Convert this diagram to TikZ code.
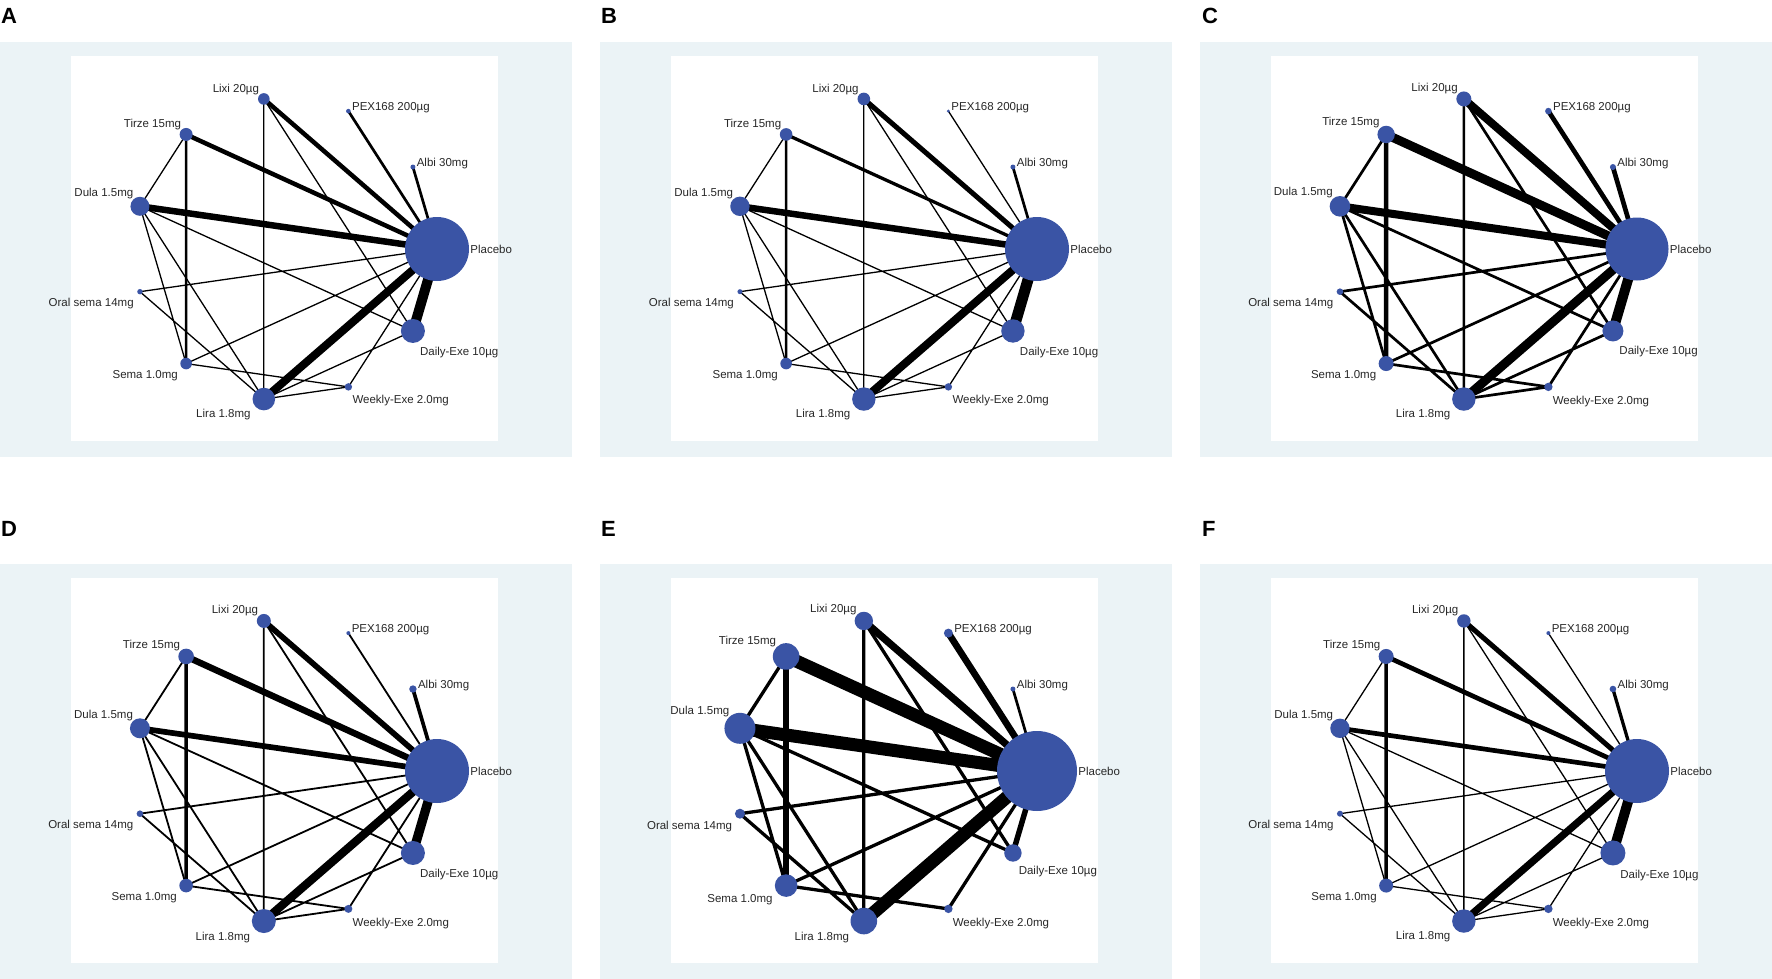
\documentclass[tikz,border=0pt]{standalone}
\usepackage{fontspec}
\setmainfont{Liberation Sans}

\definecolor{nodeblue}{RGB}{58,84,165}
\definecolor{panelbg}{RGB}{235,243,246}
\definecolor{labelgray}{RGB}{40,40,40}

\pgfdeclarelayer{panel}
\pgfdeclarelayer{links}
\pgfsetlayers{panel,links,main}

\tikzset{
  drug/.style={circle, fill=nodeblue, inner sep=0pt, minimum size=#1pt},
  lbl/.style={font=\fontsize{11.5}{13}\selectfont, text=labelgray, inner sep=0pt},
  link/.style={line width=#1pt, black},
  tag/.style={font=\bfseries\fontsize{22}{24}\selectfont, inner sep=0pt, anchor=base west},
  lbl placebo/.style={label={[lbl,anchor=west,xshift=1pt]0:Placebo}},
  lbl albi/.style={label={[lbl,anchor=base west,xshift=1pt,yshift=1pt]0:Albi 30mg}},
  lbl pex/.style={label={[lbl,anchor=base west,xshift=1pt,yshift=1pt]0:PEX168 200µg}},
  lbl lixi/.style={label={[lbl,anchor=south east]140:Lixi 20µg}},
  lbl tirze/.style={label={[lbl,anchor=south east]137:Tirze 15mg}},
  lbl dula/.style={label={[lbl,anchor=south east]132:Dula 1.5mg}},
  lbl oral/.style={label={[lbl,anchor=north east,xshift=-4pt,yshift=-4pt]225:Oral sema 14mg}},
  lbl sema/.style={label={[lbl,anchor=north east,xshift=-2.5pt,yshift=-4.5pt]200:Sema 1.0mg}},
  lbl lira/.style={label={[lbl,anchor=north east,xshift=-4pt,yshift=-3pt]218:Lira 1.8mg}},
  lbl weekly/.style={label={[lbl,anchor=north west,xshift=2pt,yshift=-5pt]300:Weekly-Exe 2.0mg}},
  lbl daily/.style={label={[lbl,anchor=north west,xshift=2pt,yshift=-5pt]294:Daily-Exe 10µg}}
}

\begin{document}
\begin{tikzpicture}[x=1pt,y=1pt]

\useasboundingbox (0,0) rectangle (1772,-979);

\node[tag] (tagA) at (1,-24) {A};
\node[tag] (tagB) at (601,-24) {B};
\node[tag] (tagC) at (1202,-24) {C};
\node[tag] (tagD) at (1,-536) {D};
\node[tag] (tagE) at (601,-536) {E};
\node[tag] (tagF) at (1202,-536) {F};

\begin{scope}[shift={(285.4,-249)}]
\begin{pgfonlayer}{panel}
\fill[panelbg] (-285.4,-208) rectangle (286.6,207);
\fill[white] (-214,-192) rectangle (213,193);
\end{pgfonlayer}
\node[drug=64, lbl placebo] (aPla) at (0:151.6) {};
\node[drug=5, lbl albi] (aAlbi) at (32.73:151.6) {};
\node[drug=4.6, lbl pex] (aPex) at (65.45:151.6) {};
\node[drug=11.6, lbl lixi] (aLixi) at (98.18:151.6) {};
\node[drug=13, lbl tirze] (aTirze) at (130.91:151.6) {};
\node[drug=19, lbl dula] (aDula) at (163.64:151.6) {};
\node[drug=5.4, lbl oral] (aOral) at (196.36:151.6) {};
\node[drug=11.6, lbl sema] (aSema) at (229.09:151.6) {};
\node[drug=22.6, lbl lira] (aLira) at (261.82:151.6) {};
\node[drug=7.4, lbl weekly] (aWeekly) at (294.55:151.6) {};
\node[drug=24, lbl daily] (aDaily) at (327.27:151.6) {};
\begin{pgfonlayer}{links}
\draw[link=1.3] (aPla.center) -- (aOral.center) (aPla.center) -- (aSema.center) (aPla.center) -- (aWeekly.center)
  (aLixi.center) -- (aLira.center) (aLixi.center) -- (aDaily.center) (aTirze.center) -- (aDula.center)
  (aDula.center) -- (aSema.center) (aDula.center) -- (aLira.center) (aDula.center) -- (aDaily.center)
  (aOral.center) -- (aLira.center) (aSema.center) -- (aWeekly.center) (aLira.center) -- (aWeekly.center)
  (aLira.center) -- (aDaily.center);
\draw[link=2.7] (aPla.center) -- (aPex.center) (aPla.center) -- (aAlbi.center) (aTirze.center) -- (aSema.center);
\draw[link=4.5] (aPla.center) -- (aLixi.center) (aPla.center) -- (aTirze.center);
\draw[link=6.5] (aPla.center) -- (aDula.center);
\draw[link=8] (aPla.center) -- (aLira.center);
\draw[link=10] (aPla.center) -- (aDaily.center);
\end{pgfonlayer}
\end{scope}

\begin{scope}[shift={(885.4,-249)}]
\begin{pgfonlayer}{panel}
\fill[panelbg] (-285.4,-208) rectangle (286.6,207);
\fill[white] (-214,-192) rectangle (213,193);
\end{pgfonlayer}
\node[drug=64, lbl placebo] (bPla) at (0:151.6) {};
\node[drug=5, lbl albi] (bAlbi) at (32.73:151.6) {};
\node[drug=3.4, lbl pex] (bPex) at (65.45:151.6) {};
\node[drug=12.6, lbl lixi] (bLixi) at (98.18:151.6) {};
\node[drug=12.6, lbl tirze] (bTirze) at (130.91:151.6) {};
\node[drug=19.4, lbl dula] (bDula) at (163.64:151.6) {};
\node[drug=5, lbl oral] (bOral) at (196.36:151.6) {};
\node[drug=11.6, lbl sema] (bSema) at (229.09:151.6) {};
\node[drug=23.4, lbl lira] (bLira) at (261.82:151.6) {};
\node[drug=7.4, lbl weekly] (bWeekly) at (294.55:151.6) {};
\node[drug=23.4, lbl daily] (bDaily) at (327.27:151.6) {};
\begin{pgfonlayer}{links}
\draw[link=1.3] (bPla.center) -- (bOral.center) (bPla.center) -- (bSema.center) (bPla.center) -- (bWeekly.center)
  (bLixi.center) -- (bLira.center) (bLixi.center) -- (bDaily.center) (bTirze.center) -- (bDula.center)
  (bDula.center) -- (bSema.center) (bDula.center) -- (bLira.center) (bDula.center) -- (bDaily.center)
  (bOral.center) -- (bLira.center) (bSema.center) -- (bWeekly.center) (bLira.center) -- (bWeekly.center)
  (bLira.center) -- (bDaily.center) (bPla.center) -- (bPex.center);
\draw[link=2.7] (bPla.center) -- (bAlbi.center) (bTirze.center) -- (bSema.center);
\draw[link=3.3] (bPla.center) -- (bTirze.center);
\draw[link=5] (bPla.center) -- (bLixi.center);
\draw[link=6.5] (bPla.center) -- (bDula.center);
\draw[link=8] (bPla.center) -- (bLira.center);
\draw[link=11] (bPla.center) -- (bDaily.center);
\end{pgfonlayer}
\end{scope}

\begin{scope}[shift={(1485.4,-249)}]
\begin{pgfonlayer}{panel}
\fill[panelbg] (-285.4,-208) rectangle (286.6,207);
\fill[white] (-214,-192) rectangle (213,193);
\end{pgfonlayer}
\node[drug=63, lbl placebo] (cPla) at (0:151.6) {};
\node[drug=6, lbl albi] (cAlbi) at (32.73:151.6) {};
\node[drug=6.6, lbl pex] (cPex) at (65.45:151.6) {};
\node[drug=15, lbl lixi] (cLixi) at (98.18:151.6) {};
\node[drug=17.4, lbl tirze] (cTirze) at (130.91:151.6) {};
\node[drug=20.6, lbl dula] (cDula) at (163.64:151.6) {};
\node[drug=6.6, lbl oral] (cOral) at (196.36:151.6) {};
\node[drug=15, lbl sema] (cSema) at (229.09:151.6) {};
\node[drug=23.4, lbl lira] (cLira) at (261.82:151.6) {};
\node[drug=8.4, lbl weekly] (cWeekly) at (294.55:151.6) {};
\node[drug=21, lbl daily] (cDaily) at (327.27:151.6) {};
\begin{pgfonlayer}{links}
\draw[link=2.7] (cPla.center) -- (cOral.center) (cPla.center) -- (cSema.center) (cPla.center) -- (cWeekly.center)
  (cLixi.center) -- (cLira.center) (cLixi.center) -- (cDaily.center) (cTirze.center) -- (cDula.center)
  (cDula.center) -- (cSema.center) (cDula.center) -- (cLira.center) (cDula.center) -- (cDaily.center)
  (cOral.center) -- (cLira.center) (cSema.center) -- (cWeekly.center) (cLira.center) -- (cWeekly.center)
  (cLira.center) -- (cDaily.center);
\draw[link=4.7] (cPla.center) -- (cAlbi.center) (cPla.center) -- (cPex.center) (cTirze.center) -- (cSema.center);
\draw[link=8] (cPla.center) -- (cLixi.center) (cPla.center) -- (cDula.center);
\draw[link=9] (cPla.center) -- (cTirze.center) (cPla.center) -- (cLira.center);
\draw[link=10] (cPla.center) -- (cDaily.center);
\end{pgfonlayer}
\end{scope}

\begin{scope}[shift={(285.4,-771)}]
\begin{pgfonlayer}{panel}
\fill[panelbg] (-285.4,-208) rectangle (286.6,207);
\fill[white] (-214,-192) rectangle (213,193);
\end{pgfonlayer}
\node[drug=64, lbl placebo] (dPla) at (0:151.6) {};
\node[drug=7.4, lbl albi] (dAlbi) at (32.73:151.6) {};
\node[drug=4, lbl pex] (dPex) at (65.45:151.6) {};
\node[drug=14, lbl lixi] (dLixi) at (98.18:151.6) {};
\node[drug=15.6, lbl tirze] (dTirze) at (130.91:151.6) {};
\node[drug=20, lbl dula] (dDula) at (163.64:151.6) {};
\node[drug=6.6, lbl oral] (dOral) at (196.36:151.6) {};
\node[drug=13.6, lbl sema] (dSema) at (229.09:151.6) {};
\node[drug=24, lbl lira] (dLira) at (261.82:151.6) {};
\node[drug=8, lbl weekly] (dWeekly) at (294.55:151.6) {};
\node[drug=24, lbl daily] (dDaily) at (327.27:151.6) {};
\begin{pgfonlayer}{links}
\draw[link=1.8] (dPla.center) -- (dOral.center) (dPla.center) -- (dSema.center) (dPla.center) -- (dWeekly.center)
  (dLixi.center) -- (dLira.center) (dLixi.center) -- (dDaily.center) (dTirze.center) -- (dDula.center)
  (dDula.center) -- (dSema.center) (dDula.center) -- (dLira.center) (dDula.center) -- (dDaily.center)
  (dOral.center) -- (dLira.center) (dSema.center) -- (dWeekly.center) (dLira.center) -- (dWeekly.center)
  (dLira.center) -- (dDaily.center) (dPla.center) -- (dPex.center);
\draw[link=3.7] (dPla.center) -- (dAlbi.center) (dTirze.center) -- (dSema.center);
\draw[link=5.7] (dPla.center) -- (dLixi.center) (dPla.center) -- (dDula.center);
\draw[link=6.5] (dPla.center) -- (dTirze.center);
\draw[link=8.3] (dPla.center) -- (dLira.center);
\draw[link=9.3] (dPla.center) -- (dDaily.center);
\end{pgfonlayer}
\end{scope}

\begin{scope}[shift={(885.4,-771)}]
\begin{pgfonlayer}{panel}
\fill[panelbg] (-285.4,-208) rectangle (286.6,207);
\fill[white] (-214,-192) rectangle (213,193);
\end{pgfonlayer}
\node[drug=80, lbl placebo] (ePla) at (0:151.6) {};
\node[drug=5, lbl albi] (eAlbi) at (32.73:151.6) {};
\node[drug=9, lbl pex] (ePex) at (65.45:151.6) {};
\node[drug=18.4, lbl lixi] (eLixi) at (98.18:151.6) {};
\node[drug=26.6, lbl tirze] (eTirze) at (130.91:151.6) {};
\node[drug=31, lbl dula] (eDula) at (163.64:151.6) {};
\node[drug=10, lbl oral] (eOral) at (196.36:151.6) {};
\node[drug=22.6, lbl sema] (eSema) at (229.09:151.6) {};
\node[drug=26.6, lbl lira] (eLira) at (261.82:151.6) {};
\node[drug=8.4, lbl weekly] (eWeekly) at (294.55:151.6) {};
\node[drug=17.4, lbl daily] (eDaily) at (327.27:151.6) {};
\begin{pgfonlayer}{links}
\draw[link=3.3] (ePla.center) -- (eOral.center) (ePla.center) -- (eSema.center) (ePla.center) -- (eWeekly.center)
  (eLixi.center) -- (eLira.center) (eLixi.center) -- (eDaily.center) (eTirze.center) -- (eDula.center)
  (eDula.center) -- (eSema.center) (eDula.center) -- (eLira.center) (eDula.center) -- (eDaily.center)
  (eOral.center) -- (eLira.center) (eSema.center) -- (eWeekly.center);
\draw[link=2.7] (ePla.center) -- (eAlbi.center);
\draw[link=5.5] (ePla.center) -- (eDaily.center);
\draw[link=6] (eTirze.center) -- (eSema.center);
\draw[link=6.7] (ePla.center) -- (ePex.center);
\draw[link=7.3] (ePla.center) -- (eLixi.center);
\draw[link=13] (ePla.center) -- (eTirze.center) (ePla.center) -- (eDula.center) (ePla.center) -- (eLira.center);
\end{pgfonlayer}
\end{scope}

\begin{scope}[shift={(1485.4,-771)}]
\begin{pgfonlayer}{panel}
\fill[panelbg] (-285.4,-208) rectangle (286.6,207);
\fill[white] (-214,-192) rectangle (213,193);
\end{pgfonlayer}
\node[drug=64, lbl placebo] (fPla) at (0:151.6) {};
\node[drug=6.6, lbl albi] (fAlbi) at (32.73:151.6) {};
\node[drug=4, lbl pex] (fPex) at (65.45:151.6) {};
\node[drug=13.4, lbl lixi] (fLixi) at (98.18:151.6) {};
\node[drug=15, lbl tirze] (fTirze) at (130.91:151.6) {};
\node[drug=19.4, lbl dula] (fDula) at (163.64:151.6) {};
\node[drug=6, lbl oral] (fOral) at (196.36:151.6) {};
\node[drug=14, lbl sema] (fSema) at (229.09:151.6) {};
\node[drug=23.4, lbl lira] (fLira) at (261.82:151.6) {};
\node[drug=8.4, lbl weekly] (fWeekly) at (294.55:151.6) {};
\node[drug=25, lbl daily] (fDaily) at (327.27:151.6) {};
\begin{pgfonlayer}{links}
\draw[link=1.3] (fPla.center) -- (fOral.center) (fPla.center) -- (fSema.center) (fPla.center) -- (fWeekly.center)
  (fLixi.center) -- (fLira.center) (fLixi.center) -- (fDaily.center) (fTirze.center) -- (fDula.center)
  (fDula.center) -- (fSema.center) (fDula.center) -- (fLira.center) (fDula.center) -- (fDaily.center)
  (fOral.center) -- (fLira.center) (fSema.center) -- (fWeekly.center) (fLira.center) -- (fWeekly.center)
  (fLira.center) -- (fDaily.center) (fPla.center) -- (fPex.center);
\draw[link=3.3] (fPla.center) -- (fAlbi.center) (fTirze.center) -- (fSema.center);
\draw[link=4.7] (fPla.center) -- (fTirze.center) (fPla.center) -- (fDula.center);
\draw[link=5] (fPla.center) -- (fLixi.center);
\draw[link=7.3] (fPla.center) -- (fLira.center);
\draw[link=10] (fPla.center) -- (fDaily.center);
\end{pgfonlayer}
\end{scope}

\end{tikzpicture}
\end{document}
